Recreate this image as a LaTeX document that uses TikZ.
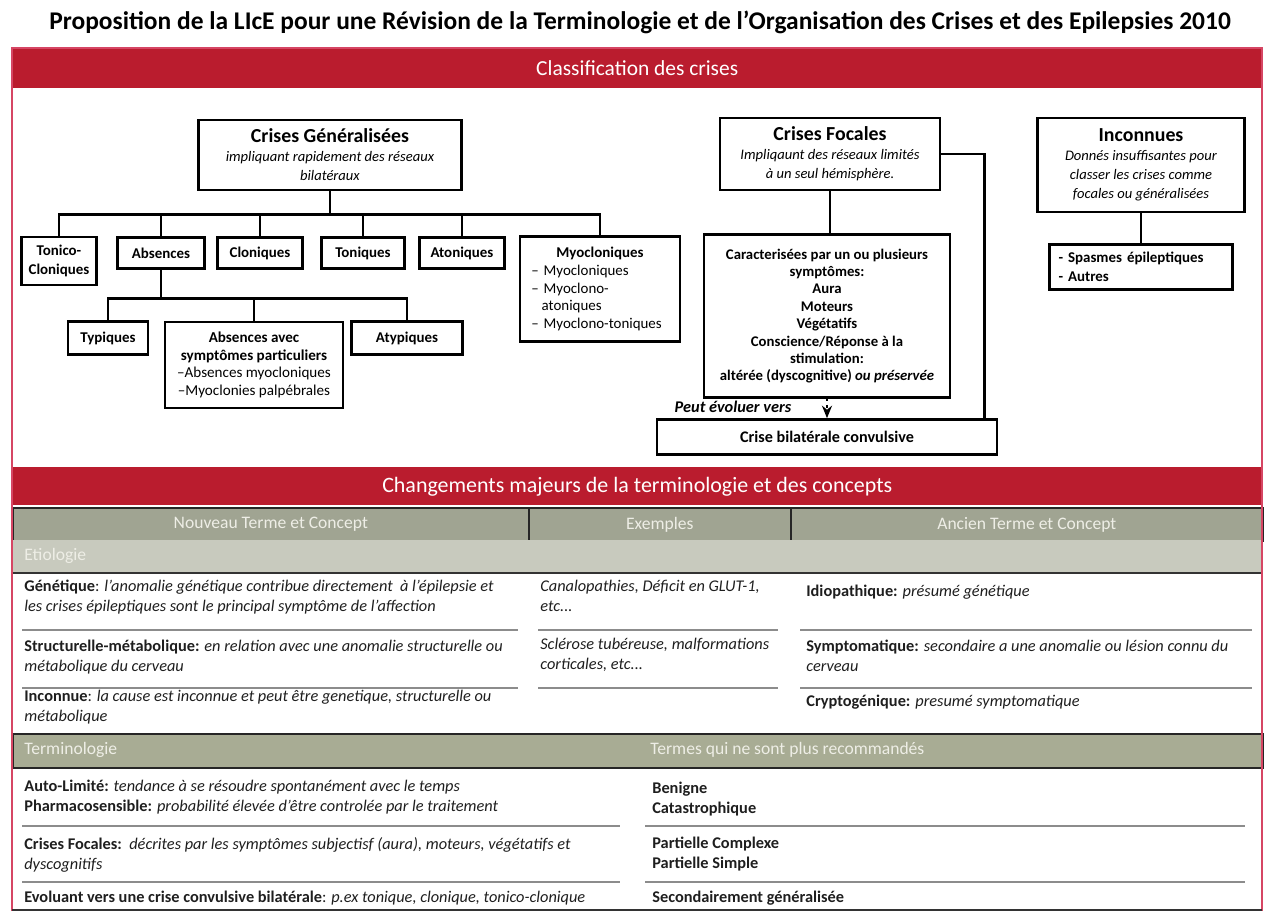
\documentclass[tikz,border=0pt]{standalone}
\usepackage{fontspec}
\setmainfont{Carlito}
\usetikzlibrary{arrows.meta, positioning, calc}
\definecolor{bandred}{RGB}{186, 28, 46}
\definecolor{framered}{RGB}{214, 70, 100}
\definecolor{headgray}{RGB}{160, 164, 146}
\definecolor{etiogray}{RGB}{200, 202, 190}
\definecolor{termgray}{RGB}{168, 172, 148}
\definecolor{headtext}{RGB}{238, 238, 230}
\definecolor{inkgray}{RGB}{30, 30, 30}

\begin{document}
\begin{tikzpicture}[
    x=0.02cm, y=-0.02cm,
    title/.style={font=\fontsize{14.5}{17}\selectfont\bfseries},
    band/.style={fill=bandred, text=white, anchor=north west, minimum width=25cm, inner sep=0pt},
    box/.style={draw, line width=1.5pt, fill=white, align=center, inner sep=2pt, font=\fontsize{8.5}{10.5}\selectfont\bfseries},
    bigbox/.style={box, font=\fontsize{8.3}{10.8}\selectfont},
    link/.style={line width=1.5pt},
    headcell/.style={fill=headgray, draw=black!85, line width=1pt, anchor=north west, minimum height=0.66cm, inner sep=0pt, text=headtext, font=\fontsize{10}{12}\selectfont},
    rowlabel/.style={anchor=west, inner sep=0pt, text=headtext, font=\fontsize{10}{12}\selectfont},
    cell/.style={anchor=north west, align=left, inner sep=0pt, text=inkgray, font=\fontsize{9.3}{11.4}\selectfont},
    rule/.style={draw=black!45, line width=0.7pt},
    darkline/.style={draw=black!80, line width=1pt}
]
\useasboundingbox (0,0) rectangle (1269,912);

% Title
\node[title] (title) at (640,22) {Proposition de la LIcE pour une Révision de la Terminologie et de l’Organisation des Crises et des Epilepsies 2010};

% Classification band
\node[band, minimum height=0.8cm, font=\fontsize{12.2}{14}\selectfont] (band1) at (12,48) {Classification des crises};

% Generalised seizures
\node[bigbox, minimum width=5.26cm, minimum height=1.40cm] (gen) at (330,155) {{\fontsize{11.3}{13.5}\selectfont\bfseries Crises Généralisées}\\ \textit{impliquant rapidement des réseaux}\\ \textit{bilatéraux}};
\node[box, minimum width=1.50cm, minimum height=0.96cm] (tonclo) at (59,261) {Tonico-\\Cloniques};
\node[box, minimum width=1.74cm, minimum height=0.62cm] (abs) at (161,253) {Absences};
\node[box, minimum width=1.70cm, minimum height=0.62cm] (clo) at (260,253) {Cloniques};
\node[box, minimum width=1.66cm, minimum height=0.62cm] (ton) at (363,253) {Toniques};
\node[box, minimum width=1.70cm, minimum height=0.62cm] (aton) at (462,253) {Atoniques};
\node[box, minimum width=3.20cm, minimum height=2.10cm, align=left, text width=2.75cm, font=\fontsize{8.5}{10}\selectfont] (myo) at (600,289) {\makebox[\linewidth]{\bfseries Myocloniques}\\ -- Myocloniques\\ -- Myoclono-\\ \hspace*{0.7em}atoniques\\ -- Myoclono-toniques};

% Absences
\node[box, minimum width=1.60cm, minimum height=0.66cm] (typ) at (108,338) {Typiques};
\node[box, minimum width=3.56cm, minimum height=1.72cm, font=\fontsize{8.6}{10}\selectfont] (absav) at (254,365) {\textbf{Absences avec}\\ \textbf{symptômes particuliers}\\ --Absences myocloniques\\ --Myoclonies palpébrales};
\node[box, minimum width=2.22cm, minimum height=0.66cm] (atyp) at (407,338) {Atypiques};

% Focal seizures
\node[bigbox, minimum width=4.40cm, minimum height=1.44cm] (foc) at (830,154) {{\fontsize{11.3}{13.5}\selectfont\bfseries Crises Focales}\\ \textit{Impliqaunt des réseaux limités}\\ \textit{à un seul hémisphère.}};
\node[box, minimum width=4.92cm, minimum height=3.26cm, font=\fontsize{8.4}{9.9}\selectfont\bfseries] (car) at (827,316) {Caracterisées par un ou plusieurs\\ symptômes:\\ Aura\\ Moteurs\\ Végétatifs\\ Conscience/Réponse à la\\ stimulation:\\ altérée (dyscognitive) \textit{ou préservée}};
\node[box, minimum width=6.80cm, minimum height=0.70cm, font=\fontsize{9.2}{11}\selectfont\bfseries] (bil) at (827,437) {Crise bilatérale convulsive};
\node[font=\fontsize{9.3}{11}\selectfont\bfseries\itshape] (peut) at (733,407) {Peut évoluer vers};

% Unknown
\node[bigbox, minimum width=4.14cm, minimum height=1.88cm] (inc) at (1141,165) {{\fontsize{11.3}{13.5}\selectfont\bfseries Inconnues}\\ \textit{Donnés insuffisantes pour}\\ \textit{classer les crises comme}\\ \textit{focales ou généralisées}};
\node[box, minimum width=3.66cm, minimum height=0.90cm, align=left, text width=3.3cm] (spa) at (1141,267) {- Spasmes épileptiques\\ - Autres};

% Tree links
\draw[link] (gen.south) -- ++(0,23) coordinate (busgen);
\foreach \n in {tonclo, abs, clo, ton, aton, myo}
    \draw[link] (busgen) -| (\n.north);
\draw[link] (abs.south) -- ++(0,29) coordinate (busabs);
\foreach \n in {typ, absav, atyp}
    \draw[link] (busabs) -| (\n.north);
\draw[link] (foc.south) -- (foc.south |- car.north);
\draw[link] (foc.east) -| ($(bil.north east)+(-14,0)$);
\draw[link, dotted, -{Stealth[length=2.5mm, width=2mm]}] (car.south) -- (car.south |- bil.north);
\draw[link] (inc.south) -- (spa.north);

% Terminology band
\node[band, minimum height=0.76cm, font=\fontsize{12.5}{14}\selectfont] (band2) at (12,467) {Changements majeurs de la terminologie et des concepts};

% Column headers
\node[headcell, minimum width=10.32cm] (hnew) at (12,507) {Nouveau Terme et Concept};
\node[headcell, minimum width=5.24cm] (hex) at (528,507) {Exemples};
\node[headcell, minimum width=9.44cm] (hold) at (790,507) {Ancien Terme et Concept};

% Etiologie
\node[fill=etiogray, anchor=north west, minimum width=25cm, minimum height=0.64cm, inner sep=0pt] (etio) at (12,540) {};
\draw[darkline] (etio.south west) -- (etio.south east);
\node[rowlabel] (etiolbl) at (24,556) {Etiologie};

\node[cell] (gene) at (24,580) {\textbf{Génétique}: \textit{l’anomalie génétique contribue directement\ \ à l’épilepsie et}\\ \textit{les crises épileptiques sont le principal symptôme de l’affection}};
\node[cell] (genex) at (540,580) {\textit{Canalopathies, Déficit en GLUT-1,}\\ \textit{etc...}};
\node[cell] (idio) at (806,585) {\textbf{Idiopathique:} \textit{présumé génétique}};
\draw[rule] (22,630) -- (518,630) (538,630) -- (778,630) (800,630) -- (1252,630);

\node[cell] (struc) at (24,640) {\textbf{Structurelle-métabolique:} \textit{en relation avec une anomalie structurelle ou}\\ \textit{métabolique du cerveau}};
\node[cell] (strucex) at (540,638) {\textit{Sclérose tubéreuse, malformations}\\ \textit{corticales, etc...}};
\node[cell] (sympt) at (806,640) {\textbf{Symptomatique:} \textit{secondaire a une anomalie ou lésion connu du}\\ \textit{cerveau}};
\draw[rule] (22,688) -- (518,688) (538,688) -- (778,688) (800,688) -- (1252,688);

\node[cell] (inco) at (24,690) {\textbf{Inconnue}: \textit{la cause est inconnue et peut être genetique, structurelle ou}\\ \textit{métabolique}};
\node[cell] (crypto) at (806,695) {\textbf{Cryptogénique:} \textit{presumé symptomatique}};

% Terminologie
\node[fill=termgray, draw=black!85, line width=1pt, anchor=north west, minimum width=25cm, minimum height=0.68cm, inner sep=0pt] (term) at (12,733) {};
\node[rowlabel] (termlbl) at (24,750) {Terminologie};
\node[rowlabel] (obslbl) at (650,750) {Termes qui ne sont plus recommandés};

\node[cell] (auto) at (24,780) {\textbf{Auto-Limité:} \textit{tendance à se résoudre spontanément avec le temps}\\ \textbf{Pharmacosensible:} \textit{probabilité élevée d’être controlée par le traitement}};
\node[cell] (benig) at (652,782) {\textbf{Benigne}\\ \textbf{Catastrophique}};
\draw[rule] (22,826) -- (620,826) (645,826) -- (1245,826);

\node[cell] (focdef) at (24,837) {\textbf{Crises Focales:}\ \ \textit{décrites par les symptômes subjectisf (aura), moteurs, végétatifs et}\\ \textit{dyscognitifs}};
\node[cell] (partiel) at (652,837) {\textbf{Partielle Complexe}\\ \textbf{Partielle Simple}};
\draw[rule] (22,882) -- (620,882) (645,882) -- (1245,882);

\node[cell] (evol) at (24,891) {\textbf{Evoluant vers une crise convulsive bilatérale}: \textit{p.ex tonique, clonique, tonico-clonique}};
\node[cell] (second) at (652,891) {\textbf{Secondairement généralisée}};

% Frame
\draw[framered, line width=1pt] (12,48) rectangle (1262,910);
\draw[darkline] (12,910) -- (1262,910);

\end{tikzpicture}
\end{document}
